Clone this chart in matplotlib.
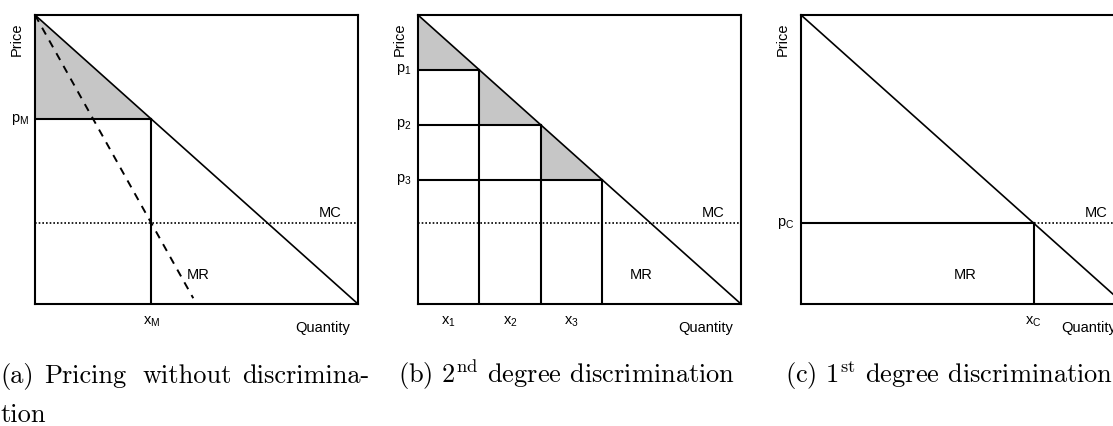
import matplotlib
matplotlib.use('Agg')
import matplotlib.pyplot as plt

plt.rcParams['font.family'] = ['Liberation Sans', 'DejaVu Sans']
plt.rcParams['mathtext.fontset'] = 'custom'
plt.rcParams['mathtext.rm'] = 'Liberation Sans'
plt.rcParams['mathtext.it'] = 'Liberation Sans'

# model values (price and quantity scaled to 0..1)
mc = 0.28
x_mono = 0.36            # MR = MC
p_mono = 1 - x_mono
mr_end = 0.49            # where the dashed MR line stops
x_steps = [0.19, 0.38, 0.57]
p_steps = [1 - x for x in x_steps]
x_comp = 1 - mc
p_comp = mc

step_labels_x = [r'$\mathrm{x_1}$', r'$\mathrm{x_2}$', r'$\mathrm{x_3}$']
step_labels_p = [r'$\mathrm{p_1}$', r'$\mathrm{p_2}$', r'$\mathrm{p_3}$']

grey = '#c6c6c6'
lw = 1.2
fs = 10.5

fig = plt.figure(figsize=(11.13, 4.26), dpi=100)
W, H = 1113, 426


def make_ax(left_px):
    ax = fig.add_axes([left_px / W, (H - 304) / H, 323 / W, 289 / H])
    ax.set_xlim(0, 1)
    ax.set_ylim(0, 1)
    ax.set_xticks([])
    ax.set_yticks([])
    for s in ax.spines.values():
        s.set_linewidth(1.5)
    ax.text(-0.058, 0.917, 'Price', rotation=90, ha='center', va='center',
            fontsize=fs, transform=ax.transAxes)
    ax.text(0.892, -0.083, 'Quantity', ha='center', va='center',
            fontsize=fs, transform=ax.transAxes, clip_on=False)
    return ax


def demand(ax):
    ax.plot([0, 1], [1, 0], color='black', lw=lw, clip_on=False)


def mc_line(ax, x0=0):
    ax.plot([x0, 1], [mc, mc], color='black', lw=lw, ls=(0, (1, 1.2)))
    ax.text(0.915, mc + 0.035, 'MC', ha='center', va='center', fontsize=fs)


def xlabel(ax, x, s):
    ax.text(x, -0.062, s, ha='center', va='center', fontsize=fs,
            transform=ax.get_xaxis_transform(), clip_on=False)


def plabel(ax, y, s):
    ax.text(-0.02, y, s, ha='right', va='center', fontsize=fs,
            transform=ax.get_yaxis_transform(), clip_on=False)


# (a) no discrimination
ax = make_ax(35)
ax.fill([0, x_mono, 0], [1, p_mono, p_mono], color=grey, lw=0)
mc_line(ax)
demand(ax)
ax.plot([0, mr_end], [1, 1 - 2 * mr_end], color='black', lw=1.4,
        ls=(0, (4, 3.5)))
ax.plot([0, x_mono], [p_mono, p_mono], color='black', lw=1.5)
ax.plot([x_mono, x_mono], [0, p_mono], color='black', lw=1.5)
ax.text(0.505, 0.10, 'MR', ha='center', va='center', fontsize=fs)
plabel(ax, p_mono, r'$\mathrm{p_M}$')
xlabel(ax, x_mono, r'$\mathrm{x_M}$')

# (b) 2nd degree
ax = make_ax(418)
xs_prev = [0] + x_steps[:-1]
ps_prev = [1] + p_steps[:-1]
for x0, p0, x1, p1 in zip(xs_prev, ps_prev, x_steps, p_steps):
    ax.fill([x0, x1, x0], [p0, p1, p1], color=grey, lw=0)
mc_line(ax)
demand(ax)
for x1, p1 in zip(x_steps, p_steps):
    ax.plot([0, x1], [p1, p1], color='black', lw=1.5)
    ax.plot([x1, x1], [0, p1], color='black', lw=1.5)
for x0, x1, s in zip(xs_prev, x_steps, step_labels_x):
    xlabel(ax, (x0 + x1) / 2, s)
for p1, s in zip(p_steps, step_labels_p):
    plabel(ax, p1, s)
ax.text(0.69, 0.10, 'MR', ha='center', va='center', fontsize=fs)

# (c) 1st degree
ax = make_ax(801)
mc_line(ax, x_comp)
demand(ax)
ax.plot([0, x_comp], [p_comp, p_comp], color='black', lw=1.5)
ax.plot([x_comp, x_comp], [0, p_comp], color='black', lw=1.5)
ax.text(0.508, 0.10, 'MR', ha='center', va='center', fontsize=fs)
plabel(ax, p_comp, r'$\mathrm{p_C}$')
xlabel(ax, x_comp, r'$\mathrm{x_C}$')

# captions
cap = dict(fontsize=19, family='cmr10', math_fontfamily='cm', va='baseline')
y1 = (H - 383) / H
y2 = (H - 422) / H
for x, word in [(0, '(a)'), (44, 'Pricing'), (142, 'without'), (242, 'discrimina-')]:
    fig.text(x / W, y1, word, **cap)
fig.text(0, y2, 'tion', **cap)
fig.text(398 / W, y1, r'(b) 2$^{\mathrm{nd}}$ degree discrimination', **cap)
fig.text(785 / W, y1, r'(c) 1$^{\mathrm{st}}$ degree discrimination', **cap)

fig.savefig('out.png', dpi=100)
